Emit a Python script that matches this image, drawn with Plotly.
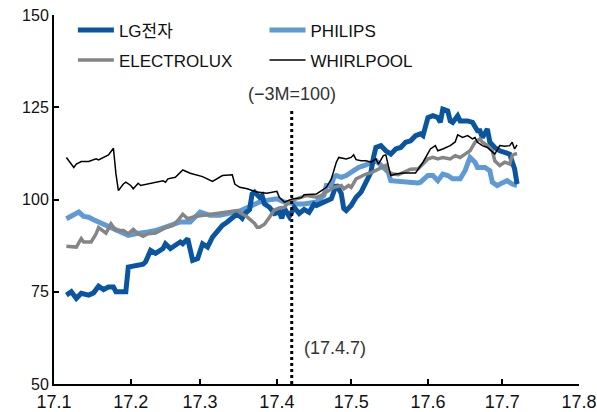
import plotly.graph_objects as go

# ---------------- data ----------------
lg_dates = ["2017-01-06","2017-01-08","2017-01-10","2017-01-12","2017-01-15","2017-01-17","2017-01-19","2017-01-21",
            "2017-01-23","2017-01-25","2017-01-26","2017-01-30","2017-01-31","2017-02-03","2017-02-06","2017-02-07",
            "2017-02-09","2017-02-11","2017-02-14","2017-02-15","2017-02-17","2017-02-19","2017-02-21","2017-02-22",
            "2017-02-24","2017-02-26","2017-02-28","2017-03-02","2017-03-04","2017-03-06","2017-03-08","2017-03-10",
            "2017-03-12","2017-03-14","2017-03-16","2017-03-18","2017-03-19","2017-03-21","2017-03-22","2017-03-23",
            "2017-03-25","2017-03-26","2017-03-27","2017-03-29","2017-03-31","2017-04-02","2017-04-03","2017-04-04",
            "2017-04-06","2017-04-07","2017-04-08","2017-04-10","2017-04-12","2017-04-14","2017-04-16","2017-04-17",
            "2017-04-20","2017-04-23","2017-04-25","2017-04-27","2017-04-28","2017-04-29","2017-05-01","2017-05-03",
            "2017-05-05","2017-05-07","2017-05-09","2017-05-10","2017-05-11","2017-05-13","2017-05-15","2017-05-17",
            "2017-05-19","2017-05-21","2017-05-23","2017-05-25","2017-05-27","2017-05-29","2017-05-30","2017-06-01",
            "2017-06-03","2017-06-05","2017-06-06","2017-06-07","2017-06-09","2017-06-10","2017-06-11","2017-06-13",
            "2017-06-14","2017-06-17","2017-06-19","2017-06-21","2017-06-22","2017-06-23","2017-06-25","2017-06-26",
            "2017-06-28","2017-06-30","2017-07-02","2017-07-04","2017-07-06","2017-07-07"]
lg_values = [74.1,75.0,73.2,74.6,74.1,74.7,76.5,75.6,
             76.3,76.3,75.0,75.0,81.7,82.2,82.5,83.1,
             86.2,85.4,86.7,88.0,86.7,87.6,88.5,88.0,
             89.4,83.5,84.0,88.0,87.1,89.8,91.6,93.0,
             93.9,94.8,96.1,94.9,96.1,97.3,101.5,102.0,
             100.6,101.1,98.8,97.9,96.2,96.6,94.9,97.6,
             95.4,96.6,97.9,96.2,97.3,96.5,98.7,98.4,
             99.3,100.2,104.0,101.6,97.6,97.0,98.4,100.6,
             102.0,104.7,107.4,111.4,114.1,114.6,113.2,112.3,
             113.7,114.1,115.5,115.9,117.3,117.8,117.3,122.2,
             122.7,122.2,120.9,124.5,124.0,121.3,120.9,122.7,
             121.3,121.3,120.9,118.6,118.6,116.8,119.1,115.5,
             114.1,113.2,112.8,112.3,108.3,104.2]

ph_dates = ["2017-01-06","2017-01-08","2017-01-11","2017-01-13","2017-01-15","2017-01-17","2017-01-19","2017-01-21",
            "2017-01-23","2017-01-25","2017-01-27","2017-01-29","2017-01-31","2017-02-03","2017-02-06","2017-02-08",
            "2017-02-11","2017-02-13","2017-02-16","2017-02-18","2017-02-21","2017-02-24","2017-02-25","2017-03-01",
            "2017-03-05","2017-03-09","2017-03-13","2017-03-17","2017-03-21","2017-03-25","2017-03-29","2017-04-01",
            "2017-04-04","2017-04-07","2017-04-09","2017-04-12","2017-04-15","2017-04-17","2017-04-19","2017-04-20",
            "2017-04-21","2017-04-23","2017-04-24","2017-04-25","2017-04-27","2017-04-29","2017-05-02","2017-05-04",
            "2017-05-07","2017-05-09","2017-05-11","2017-05-14","2017-05-16","2017-05-17","2017-05-20","2017-05-22",
            "2017-05-25","2017-05-28","2017-05-29","2017-06-01","2017-06-03","2017-06-05","2017-06-07","2017-06-09",
            "2017-06-11","2017-06-14","2017-06-16","2017-06-18","2017-06-20","2017-06-21","2017-06-24","2017-06-26",
            "2017-06-27","2017-06-29","2017-07-01","2017-07-03","2017-07-05","2017-07-07"]
ph_values = [94.8,95.4,96.6,95.4,95.2,94.5,93.9,93.4,
             93.0,92.4,91.8,90.9,90.3,90.7,90.9,91.2,
             91.6,92.1,92.6,93.0,93.9,93.9,93.9,96.6,
             95.7,95.7,96.4,96.9,98.1,99.3,99.9,100.2,
             99.3,98.8,98.8,98.8,99.2,99.3,100.5,101.1,
             103.8,103.8,106.0,106.5,106.0,106.5,107.8,108.7,
             109.4,110.1,110.5,108.7,107.4,105.1,104.9,104.7,
             104.5,104.5,104.7,106.5,106.5,105.1,106.9,106.5,
             105.6,105.6,107.8,111.4,110.1,108.7,108.7,107.8,
             104.7,103.8,104.5,105.1,104.2,103.8]

el_dates = ["2017-01-06","2017-01-08","2017-01-10","2017-01-12","2017-01-13","2017-01-16","2017-01-18","2017-01-19",
            "2017-01-20","2017-01-22","2017-01-24","2017-01-26","2017-01-27","2017-01-29","2017-01-31","2017-02-02",
            "2017-02-04","2017-02-06","2017-02-08","2017-02-11","2017-02-13","2017-02-15","2017-02-18","2017-02-20",
            "2017-02-22","2017-02-24","2017-02-27","2017-03-02","2017-03-06","2017-03-10","2017-03-14","2017-03-16",
            "2017-03-17","2017-03-20","2017-03-23","2017-03-24","2017-03-25","2017-03-27","2017-03-29","2017-03-31",
            "2017-04-02","2017-04-04","2017-04-06","2017-04-08","2017-04-10","2017-04-13","2017-04-17","2017-04-19",
            "2017-04-21","2017-04-24","2017-04-27","2017-04-28","2017-04-30","2017-05-01","2017-05-03","2017-05-05",
            "2017-05-07","2017-05-09","2017-05-11","2017-05-13","2017-05-15","2017-05-16","2017-05-18","2017-05-20",
            "2017-05-22","2017-05-25","2017-05-28","2017-05-30","2017-06-01","2017-06-03","2017-06-05","2017-06-07",
            "2017-06-10","2017-06-12","2017-06-14","2017-06-16","2017-06-18","2017-06-20","2017-06-22","2017-06-23",
            "2017-06-25","2017-06-27","2017-06-28","2017-06-30","2017-07-02","2017-07-04","2017-07-05","2017-07-06",
            "2017-07-07"]
el_values = [87.3,87.1,87.1,89.4,88.5,88.5,90.7,92.4,
             91.8,90.9,93.4,91.6,91.6,91.6,90.7,91.9,
             90.7,90.0,90.7,90.9,91.6,92.4,93.0,94.3,
             96.0,94.8,95.4,95.7,96.1,96.6,97.0,97.0,
             96.5,95.3,93.5,92.5,92.5,93.3,95.2,97.2,
             97.7,97.9,99.5,99.9,100.3,101.1,100.6,101.1,
             102.0,103.3,103.8,102.9,103.8,103.3,105.6,106.3,
             106.9,107.2,107.8,108.4,109.2,107.4,106.9,106.7,
             107.2,108.2,108.3,109.6,111.0,111.4,111.0,111.4,
             111.0,111.9,111.4,112.3,113.2,115.5,116.4,115.5,
             114.6,113.2,110.5,109.2,110.1,109.6,111.9,112.3,
             112.4]

wh_dates = ["2017-01-06","2017-01-09","2017-01-10","2017-01-12","2017-01-15","2017-01-18","2017-01-19","2017-01-22",
            "2017-01-23","2017-01-25","2017-01-26","2017-01-27","2017-01-29","2017-01-30","2017-02-01","2017-02-02",
            "2017-02-04","2017-02-05","2017-02-08","2017-02-11","2017-02-14","2017-02-15","2017-02-16","2017-02-19",
            "2017-02-21","2017-02-22","2017-02-25","2017-03-02","2017-03-06","2017-03-10","2017-03-14","2017-03-15",
            "2017-03-17","2017-03-20","2017-03-24","2017-03-28","2017-04-01","2017-04-02","2017-04-04","2017-04-07",
            "2017-04-11","2017-04-12","2017-04-17","2017-04-19","2017-04-21","2017-04-23","2017-04-25","2017-04-26",
            "2017-04-29","2017-05-01","2017-05-02","2017-05-03","2017-05-05","2017-05-07","2017-05-09","2017-05-11",
            "2017-05-12","2017-05-14","2017-05-15","2017-05-16","2017-05-17","2017-05-19","2017-05-22","2017-05-25",
            "2017-05-27","2017-05-30","2017-06-02","2017-06-04","2017-06-05","2017-06-07","2017-06-10","2017-06-12",
            "2017-06-13","2017-06-15","2017-06-17","2017-06-19","2017-06-20","2017-06-21","2017-06-23","2017-06-25",
            "2017-06-27","2017-06-28","2017-06-30","2017-07-02","2017-07-04","2017-07-05","2017-07-06","2017-07-07"]
wh_values = [111.4,108.7,109.6,110.3,110.3,111.0,110.7,111.9,
             112.1,113.9,107.0,102.4,104.2,104.7,103.8,102.9,
             104.4,103.8,104.2,104.7,105.1,104.7,105.6,106.0,
             107.4,108.0,107.1,106.2,104.9,106.5,106.7,104.2,
             103.3,102.9,102.0,101.7,102.2,100.6,99.3,100.1,
             100.5,101.3,101.5,102.4,103.3,105.6,110.1,111.4,
             111.0,111.4,112.1,110.8,110.5,110.5,110.1,111.0,
             109.6,111.9,112.1,109.2,106.5,106.9,107.2,107.2,
             107.2,110.1,113.7,114.6,113.2,113.7,114.6,115.6,
             117.5,116.8,117.3,116.4,116.8,115.5,114.6,114.1,
             112.8,112.3,114.6,114.4,114.6,115.5,113.7,114.8]

tick_dates = ["2017-01-01","2017-02-01","2017-03-01","2017-04-01","2017-05-01","2017-06-01","2017-07-01","2017-08-01"]
tick_labels = ["17.1","17.2","17.3","17.4","17.5","17.6","17.7","17.8"]
y_ticks = [50, 75, 100, 125, 150]
base_date = "2017-04-07"
base_label_top = "(\u22123M=100)"
base_label_bottom = "(17.4.7)"

FONT = "Liberation Sans, Arial, Noto Sans CJK KR, sans-serif"

fig = go.Figure()
fig.add_trace(go.Scatter(x=ph_dates, y=ph_values, name="PHILIPS", mode="lines",
                         line=dict(color="#5F9AD5", width=5), legend="legend2", legendgroup="ph"))
fig.add_trace(go.Scatter(x=lg_dates, y=lg_values, name="LG전자", mode="lines",
                         line=dict(color="#0A559F", width=5), legend="legend", legendgroup="lg"))
fig.add_trace(go.Scatter(x=el_dates, y=el_values, name="ELECTROLUX", mode="lines",
                         line=dict(color="#858585", width=3.5), legend="legend", legendgroup="el"))
fig.add_trace(go.Scatter(x=wh_dates, y=wh_values, name="WHIRLPOOL", mode="lines",
                         line=dict(color="#000000", width=1.5), legend="legend2", legendgroup="wh"))

fig.add_shape(type="line", xref="x", yref="y", x0=base_date, x1=base_date, y0=50, y1=124.5,
              line=dict(color="black", width=3, dash="dot"))
fig.add_annotation(x=base_date, y=128.5, xref="x", yref="y", text=base_label_top, showarrow=False,
                   font=dict(family=FONT, size=18, color="#333333"))
fig.add_annotation(x="2017-04-11", y=59.7, xref="x", yref="y", text=base_label_bottom, showarrow=False,
                   xanchor="left", font=dict(family=FONT, size=18, color="#333333"))

legend_common = dict(orientation="v", bgcolor="rgba(0,0,0,0)", borderwidth=0,
                     font=dict(family=FONT, size=17, color="#111111"), tracegroupgap=5, itemwidth=36,
                     xanchor="left", yanchor="top", traceorder="grouped")
fig.update_layout(
    width=597, height=412,
    margin=dict(l=54, r=18, t=15, b=28, autoexpand=False),
    paper_bgcolor="white", plot_bgcolor="white",
    font=dict(family=FONT, size=15, color="#111111"),
    legend=dict(x=0.036, y=1.007, **legend_common),
    legend2=dict(x=0.401, y=1.007, **legend_common),
    xaxis=dict(type="date", range=["2017-01-01", "2017-08-01"], tickvals=tick_dates, ticktext=tick_labels,
               ticks="inside", ticklen=5, tickwidth=1.5, tickcolor="black", showline=True, linecolor="black",
               linewidth=2, showgrid=False, zeroline=False, automargin=False,
               tickfont=dict(size=18, family=FONT)),
    yaxis=dict(range=[50, 150], tickvals=y_ticks, ticks="inside", ticklen=5, tickwidth=1.5, tickcolor="black",
               showline=True, linecolor="black", linewidth=2, showgrid=False, zeroline=False, automargin=False,
               tickfont=dict(size=16, family=FONT)),
)
fig.write_html("out.html", config={"displayModeBar": False},
               post_script="document.body.style.margin='0';document.body.style.overflow='hidden';")
